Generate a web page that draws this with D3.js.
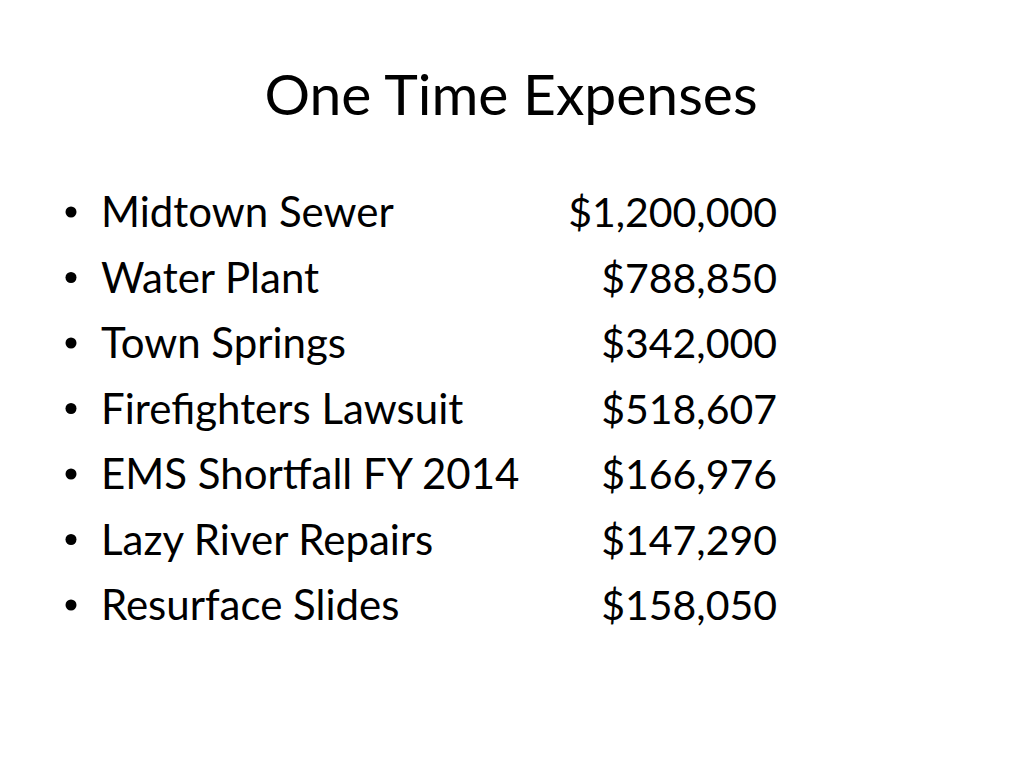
<!DOCTYPE html>
<html><head><meta charset="utf-8">
<script src="https://cdn.jsdelivr.net/npm/d3@7"></script>
<style>body{margin:0;background:#fff}</style>
</head><body>
<script>
const title = "One Time Expenses";
const items = ["Midtown Sewer","Water Plant","Town Springs","Firefighters Lawsuit","EMS Shortfall FY 2014","Lazy River Repairs","Resurface Slides"];
const amounts = [1200000,788850,342000,518607,166976,147290,158050];

const W=1024,H=768;
const svg=d3.select("body").append("svg").attr("width",W).attr("height",H);
svg.append("rect").attr("width",W).attr("height",H).attr("fill","#fff");
const font="Lato, 'Open Sans', sans-serif";
svg.append("text").attr("x",511).attr("y",115).attr("text-anchor","middle")
  .attr("font-family",font).attr("font-size",57).attr("fill","#000").text(title);

// baseline positions of rows
const y=d3.scalePoint().domain(items).range([227,620]);
const fmt=d3.format("$,");
const rows=svg.selectAll("g.row").data(items).join("g").attr("class","row")
  .attr("transform",d=>`translate(0,${y(d)})`);
rows.append("circle").attr("cx",71).attr("cy",-15).attr("r",5.5).attr("fill","#000");
rows.append("text").attr("x",101).attr("y",0).attr("font-family",font).attr("font-size",42).attr("fill","#000").text(d=>d);
rows.append("text").attr("x",777).attr("y",0).attr("text-anchor","end").attr("font-family",font).attr("font-size",41).attr("fill","#000")
  .text((d,i)=>fmt(amounts[i]));
</script>
</body></html>
